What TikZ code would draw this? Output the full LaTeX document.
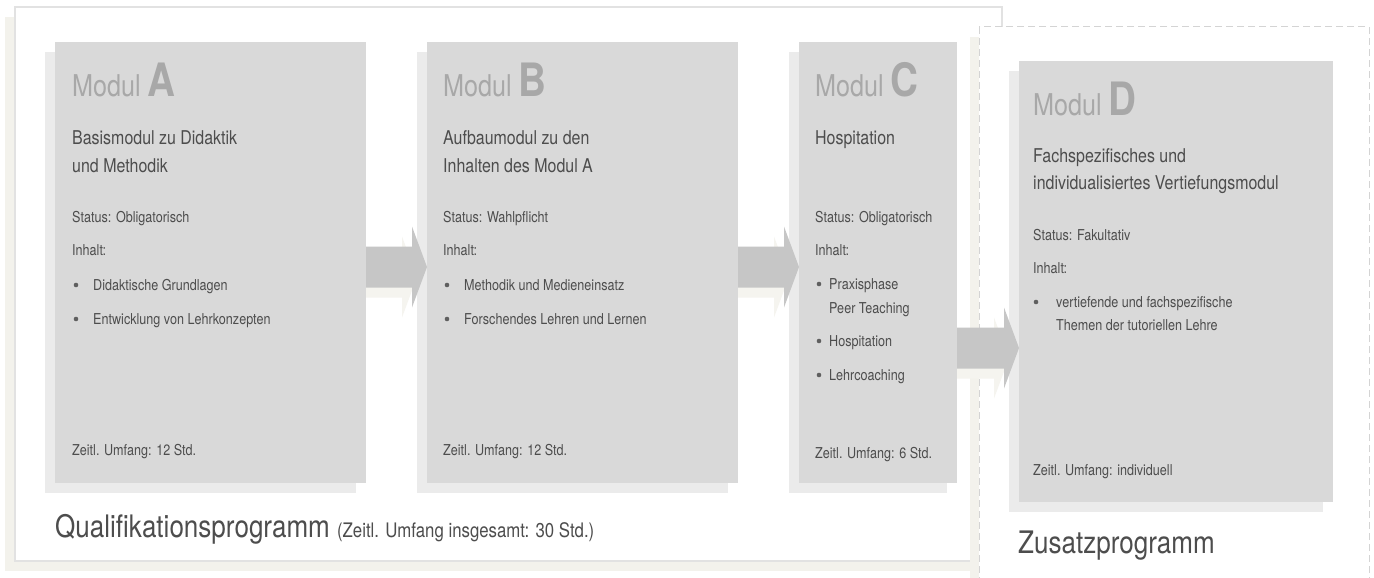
\documentclass[tikz,border=0pt]{standalone}
\usepackage{fontspec}
\setmainfont{TeX Gyre Heros}[FakeStretch=0.84]
\usetikzlibrary{calc,shadows,backgrounds}
\definecolor{boxgray}{HTML}{D9D9D9}
\definecolor{boxshade}{HTML}{EBEBEB}
\definecolor{arrowgray}{HTML}{C6C6C6}
\definecolor{arrowshade}{HTML}{F5F4EF}
\definecolor{beige}{HTML}{F3F2EC}
\definecolor{framegray}{HTML}{E2E2E2}
\definecolor{dashgray}{HTML}{D4D4D4}
\definecolor{textgray}{HTML}{4D4D4D}
\definecolor{headgray}{HTML}{A8A8A8}

\tikzset{
  modbox/.style={fill=boxgray, inner sep=0pt, outer sep=0pt, anchor=north west,
    minimum height=441pt,
    general shadow={fill=boxshade, shadow xshift=-10pt, shadow yshift=-10pt}},
  body/.style={anchor=base west, inner sep=0pt, text=textgray,
    font=\fontsize{15}{18}\selectfont},
  title/.style={body, font=\fontsize{19}{23}\selectfont},
  head/.style={anchor=base west, inner sep=0pt, text=headgray,
    font=\fontsize{30}{36}\selectfont},
  big/.style={anchor=base west, inner sep=0pt, text=textgray,
    font=\fontsize{31}{37}\selectfont},
  dot/.style={circle, fill=textgray!90, inner sep=0pt, minimum size=4.6pt},
}

% block arrow between two modules: name, from, to, centre y
\newcommand{\flowarrow}[4]{%
  \coordinate (#1tail) at (#2.east |- 0,#4);
  \coordinate (#1tip) at (#3.west |- 0,#4);
  \begin{pgfonlayer}{background}
  \fill[arrowshade] ($(#1tail)+(-10,-10.5)$) -- ($(#1tip)+(-25,-10.5)$) -- ($(#1tip)+(-25,-30.5)$)
    -- ($(#1tip)+(-10,10)$) -- ($(#1tip)+(-25,50.5)$) -- ($(#1tip)+(-25,30.5)$)
    -- ($(#1tail)+(-10,30.5)$) -- cycle;
  \end{pgfonlayer}
  \fill[arrowgray] ($(#1tail)+(0,-20.5)$) -- ($(#1tip)+(-15,-20.5)$) -- ($(#1tip)+(-15,-40.5)$)
    -- (#1tip) -- ($(#1tip)+(-15,40.5)$) -- ($(#1tip)+(-15,20.5)$)
    -- ($(#1tail)+(0,20.5)$) -- cycle;
}
\newcommand{\modhead}[1]{Modul {\fontsize{46}{50}\selectfont\bfseries #1}}

\begin{document}
\begin{tikzpicture}[x=1pt,y=-1pt]
\useasboundingbox (0,0) rectangle (1374,578);

\begin{pgfonlayer}{background}
\fill[beige] (5,17) rectangle (992,571); % Qualifikation shadow
\draw[framegray, fill=white, line width=1.5pt] (15,7) rectangle (1002,561); % Qualifikation
\fill[beige] (970,37) rectangle (1360,600); % Zusatz shadow
\draw[dashgray, fill=white, line width=1pt, dash pattern=on 7pt off 4pt] (979,27) rectangle (1369,600); % Zusatz
\end{pgfonlayer}

\node[modbox, minimum width=311pt] (boxA) at (55,42) {};
\node[modbox, minimum width=311pt] (boxB) at (427,42) {};
\node[modbox, minimum width=158pt] (boxC) at (799,42) {};
\node[modbox, minimum width=314pt] (boxD) at (1019,61) {};

\flowarrow{ab}{boxA}{boxB}{267}
\flowarrow{bc}{boxB}{boxC}{267}
\flowarrow{cd}{boxC}{boxD}{348}

% Modul A
\node[head] (headA) at (72,96) {\modhead{A}};
\node[title] (titleA1) at (72,144) {Basismodul zu Didaktik};
\node[title] (titleA2) at (72,172) {und Methodik};
\node[body] (statusA) at (72,222) {Status: Obligatorisch};
\node[body] (inhaltA) at (72,255) {Inhalt:};
\node[dot] (dotA1) at (76,285) {};
\node[body] (itemA1) at (93,290) {Didaktische Grundlagen};
\node[dot] (dotA2) at (76,319) {};
\node[body] (itemA2) at (93,324) {Entwicklung von Lehrkonzepten};
\node[body] (zeitA) at (72,455) {Zeitl. Umfang: 12 Std.};

% Modul B
\node[head] (headB) at (443,96) {\modhead{B}};
\node[title] (titleB1) at (443,144) {Aufbaumodul zu den};
\node[title] (titleB2) at (443,172) {Inhalten des Modul A};
\node[body] (statusB) at (443,222) {Status: Wahlpflicht};
\node[body] (inhaltB) at (443,255) {Inhalt:};
\node[dot] (dotB1) at (447,285) {};
\node[body] (itemB1) at (464,290) {Methodik und Medieneinsatz};
\node[dot] (dotB2) at (447,319) {};
\node[body] (itemB2) at (464,324) {Forschendes Lehren und Lernen};
\node[body] (zeitB) at (443,455) {Zeitl. Umfang: 12 Std.};

% Modul C
\node[head] (headC) at (815,96) {\modhead{C}};
\node[title] (titleC1) at (815,144) {Hospitation};
\node[body] (statusC) at (815,222) {Status: Obligatorisch};
\node[body] (inhaltC) at (815,255) {Inhalt:};
\node[dot] (dotC1) at (819,284) {};
\node[body] (itemC1) at (829,289) {Praxisphase};
\node[body] (itemC1b) at (829,313) {Peer Teaching};
\node[dot] (dotC2) at (819,341) {};
\node[body] (itemC2) at (829,346) {Hospitation};
\node[dot] (dotC3) at (819,375) {};
\node[body] (itemC3) at (829,380) {Lehrcoaching};
\node[body] (zeitC) at (815,458) {Zeitl. Umfang: 6 Std.};

% Modul D
\node[head] (headD) at (1033,115) {\modhead{D}};
\node[title] (titleD1) at (1033,162) {Fachspezifisches und};
\node[title] (titleD2) at (1033,189) {individualisiertes Vertiefungsmodul};
\node[body] (statusD) at (1033,240) {Status: Fakultativ};
\node[body] (inhaltD) at (1033,273) {Inhalt:};
\node[dot] (dotD1) at (1036,302) {};
\node[body] (itemD1) at (1056,307) {vertiefende und fachspezifische};
\node[body] (itemD1b) at (1056,330) {Themen der tutoriellen Lehre};
\node[body] (zeitD) at (1033,475) {Zeitl. Umfang: individuell};

% Programme
\node[big] (quali) at (55,537) {Qualifikationsprogramm {\fontsize{20}{24}\selectfont(Zeitl. Umfang insgesamt: 30 Std.)}};
\node[big] (zusatz) at (1018,553) {Zusatzprogramm};
\end{tikzpicture}
\end{document}
